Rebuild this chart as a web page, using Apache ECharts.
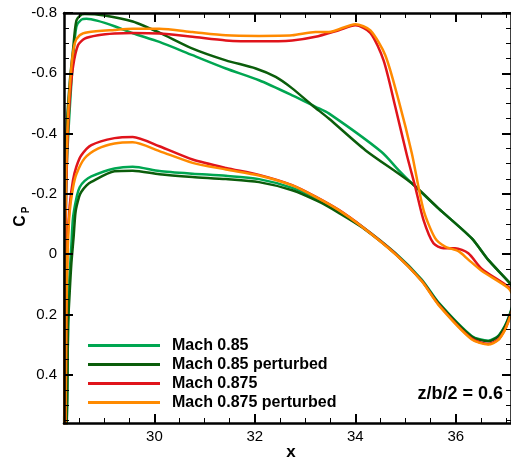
<!DOCTYPE html>
<html>
<head>
<meta charset="utf-8">
<script src="https://cdn.jsdelivr.net/npm/echarts@6/dist/echarts.min.js"></script>
<style>
  html, body { margin: 0; padding: 0; background: #fff; }
  #chart { width: 511px; height: 461px; }
</style>
</head>
<body>
<div id="chart"></div>
<script>
// Pressure coefficient along the section z/b/2 = 0.6.
// Each curve runs from the trailing edge along the upper surface to the
// leading edge, then back along the lower surface to the trailing edge.

const seriesNames = ['Mach 0.85', 'Mach 0.85 perturbed', 'Mach 0.875', 'Mach 0.875 perturbed'];
const seriesColors = ['#00a651', '#0b5d0b', '#e0141b', '#ff8a00'];

const mach085X = [
  37.15, 37.05, 36.647, 36.315, 35.655, 35.125, 34.861, 34.524, 33.472, 33.208, 32.744, 32.083,
  31.423, 30.760, 30.099, 29.569, 29.206, 28.875, 28.645, 28.546, 28.446, 28.379, 28.313, 28.26,
  28.234, 28.22, 28.212, 28.204, 28.195,
  28.262, 28.294, 28.347, 28.379, 28.446, 28.512, 28.611, 28.744, 29.206, 29.569, 30.099, 30.760,
  31.423, 32.083, 32.744, 33.274, 33.671, 34.133, 34.796, 35.323, 35.655, 36.315, 36.647, 36.845,
  36.978, 37.063, 37.15
];
const mach085Cp = [
  0.115, 0.091, 0.019, -0.053, -0.152, -0.235, -0.279, -0.339, -0.467, -0.489, -0.527, -0.577,
  -0.616, -0.660, -0.704, -0.733, -0.756, -0.774, -0.781, -0.778, -0.754, -0.643, -0.478, -0.31,
  -0.11, 0.15, 0.48, 0.81, 1.05,
  0.48, 0.128, -0.03, -0.12, -0.185, -0.222, -0.243, -0.258, -0.284, -0.290, -0.276, -0.267,
  -0.260, -0.249, -0.220, -0.181, -0.142, -0.092, -0.004, 0.084, 0.160, 0.271, 0.287, 0.271,
  0.238, 0.205, 0.16
];

const mach085pX = [
  37.15, 37.05, 36.647, 36.315, 35.655, 35.125, 34.200, 33.472, 33.141, 32.744, 32.415, 32.018,
  31.423, 30.760, 30.099, 29.569, 29.008, 28.611, 28.546, 28.446, 28.379, 28.313, 28.248, 28.22,
  28.214, 28.204, 28.195,
  28.265, 28.280, 28.313, 28.347, 28.393, 28.43, 28.50, 28.546, 28.65, 28.744, 29.206, 29.569,
  30.099, 30.760, 31.423, 32.083, 32.744, 33.274, 33.671, 34.133, 34.796, 35.323, 35.655, 36.315,
  36.647, 36.845, 36.978, 37.063, 37.15
];
const mach085pCp = [
  0.115, 0.091, 0.019, -0.053, -0.152, -0.235, -0.345, -0.450, -0.494, -0.550, -0.588, -0.616,
  -0.643, -0.682, -0.735, -0.772, -0.792, -0.797, -0.795, -0.774, -0.676, -0.567, -0.402, -0.18,
  0.15, 0.55, 1.05,
  0.48, 0.240, 0.128, 0.030, -0.06, -0.14, -0.19, -0.207, -0.228, -0.240, -0.275, -0.277,
  -0.265, -0.256, -0.249, -0.239, -0.212, -0.174, -0.137, -0.089, -0.001, 0.088, 0.162, 0.273,
  0.289, 0.273, 0.240, 0.207, 0.165
];

const mach0875X = [
  37.15, 37.044, 36.514, 36.25, 35.986, 35.754, 35.556, 35.357, 35.192, 35.026, 34.796, 34.563,
  34.3, 34.002, 33.671, 33.208, 32.744, 32.083, 31.423, 30.760, 30.099, 29.569, 29.206, 28.875,
  28.611, 28.478, 28.379, 28.313, 28.263, 28.234, 28.22, 28.208, 28.195,
  28.236, 28.250, 28.268, 28.313, 28.379, 28.446, 28.545, 28.744, 29.206, 29.569, 30.099, 30.760,
  31.423, 32.083, 32.744, 33.208, 33.671, 34.133, 34.796, 35.323, 35.655, 36.315, 36.647, 36.845,
  36.978, 37.063, 37.15
];
const mach0875Cp = [
  0.13, 0.108, 0.048, -0.003, -0.020, -0.020, -0.036, -0.114, -0.224, -0.329, -0.489, -0.643,
  -0.734, -0.759, -0.743, -0.721, -0.709, -0.706, -0.709, -0.721, -0.732, -0.734, -0.732, -0.726,
  -0.715, -0.693, -0.621, -0.511, -0.345, -0.114, 0.217, 0.55, 1.05,
  0.50, 0.15, -0.037, -0.16, -0.245, -0.29, -0.328, -0.362, -0.385, -0.389, -0.358, -0.314,
  -0.286, -0.263, -0.229, -0.191, -0.147, -0.092, -0.002, 0.088, 0.166, 0.280, 0.298, 0.283,
  0.250, 0.215, 0.17
];

const mach0875pX = [
  37.15, 37.044, 36.514, 36.25, 36.052, 35.788, 35.589, 35.357, 35.125, 34.861, 34.597, 34.3,
  34.002, 33.472, 33.208, 32.744, 32.083, 31.423, 30.760, 30.099, 29.569, 29.206, 28.677, 28.512,
  28.413, 28.347, 28.280, 28.24, 28.222, 28.212, 28.204, 28.195,
  28.232, 28.248, 28.280, 28.313, 28.379, 28.446, 28.611, 28.875, 29.206, 29.569, 30.099, 30.760,
  31.423, 32.083, 32.744, 33.208, 33.671, 34.133, 34.796, 35.323, 35.655, 36.315, 36.647, 36.845,
  36.978, 37.063, 37.15
];
const mach0875pCp = [
  0.14, 0.112, 0.055, 0.018, -0.010, -0.025, -0.053, -0.147, -0.335, -0.511, -0.660, -0.742,
  -0.763, -0.737, -0.737, -0.726, -0.724, -0.726, -0.737, -0.748, -0.748, -0.744, -0.736, -0.726,
  -0.699, -0.621, -0.456, -0.25, 0.0, 0.3, 0.6, 1.05,
  0.52, 0.184, -0.037, -0.14, -0.22, -0.265, -0.318, -0.350, -0.367, -0.371, -0.342, -0.303,
  -0.281, -0.261, -0.228, -0.190, -0.146, -0.091, 0.000, 0.090, 0.168, 0.282, 0.300, 0.285,
  0.252, 0.217, 0.175
];

const curveX = [mach085X, mach085pX, mach0875X, mach0875pX];
const curveCp = [mach085Cp, mach085pCp, mach0875Cp, mach0875pCp];

// Axis ticks and labels
const xMajorTicks = [30, 32, 34, 36];
const xMinorTicks = [28.5, 29, 29.5, 30.5, 31, 31.5, 32.5, 33, 33.5, 34.5, 35, 35.5, 36.5, 37];
const yMajorTicks = [-0.8, -0.6, -0.4, -0.2, 0, 0.2, 0.4];
const yMinorTicks = [-0.75, -0.7, -0.65, -0.55, -0.5, -0.45, -0.35, -0.3, -0.25, -0.15, -0.1, -0.05,
                     0.05, 0.1, 0.15, 0.25, 0.3, 0.35, 0.45, 0.5, 0.55];

const FONT = '"Liberation Sans", Arial, Helvetica, sans-serif';

function makeAxis(kind, position, ticks, tickLen, tickWidth, withLabels, withLine) {
  const ax = {
    type: 'value',
    position: position,
    splitLine: { show: false },
    axisLine: { show: withLine, onZero: false, lineStyle: { color: '#000', width: 2.5 } },
    axisTick: { show: true, inside: true, length: tickLen, customValues: ticks,
                lineStyle: { color: '#000', width: tickWidth } },
    axisLabel: withLabels
      ? { show: true, customValues: ticks, color: '#000', fontFamily: FONT, fontSize: 15,
          margin: kind === 'x' ? 6 : 7 }
      : { show: false },
    z: 5
  };
  if (kind === 'x') {
    ax.min = 28.2; ax.max = 37.1;
  } else {
    ax.min = -0.8; ax.max = 0.56; ax.inverse = true;
  }
  return ax;
}

const chart = echarts.init(document.getElementById('chart'), null, { renderer: 'canvas' });

const series = seriesNames.map((name, i) => ({
  name: name,
  type: 'line',
  xAxisIndex: 0,
  yAxisIndex: 0,
  data: curveX[i].map((x, k) => [x, curveCp[i][k]]),
  showSymbol: false,
  symbol: 'none',
  smooth: 0.25,
  clip: true,
  color: seriesColors[i],
  lineStyle: { color: seriesColors[i], width: 2.5 },
  animation: false,
  z: 2
}));

chart.setOption({
  animation: false,
  backgroundColor: '#fff',
  grid: { left: 64, top: 13, width: 449, height: 410, containLabel: false },
  xAxis: [
    makeAxis('x', 'bottom', xMajorTicks, 9, 2, true, true),
    makeAxis('x', 'bottom', xMinorTicks, 5, 1, false, false),
    makeAxis('x', 'top', xMajorTicks, 9, 2, false, true),
    makeAxis('x', 'top', xMinorTicks, 5, 1, false, false)
  ],
  yAxis: [
    makeAxis('y', 'left', yMajorTicks, 9, 2, true, true),
    makeAxis('y', 'left', yMinorTicks, 5, 1, false, false),
    makeAxis('y', 'right', yMajorTicks, 9, 2, false, true),
    makeAxis('y', 'right', yMinorTicks, 5, 1, false, false)
  ],
  legend: {
    orient: 'vertical',
    left: 83,
    top: 331,
    itemWidth: 72,
    itemHeight: 3,
    itemGap: 0,
    icon: 'rect',
    data: seriesNames,
    textStyle: { fontFamily: FONT, fontSize: 16, fontWeight: 'bold', color: '#000',
                 lineHeight: 19, padding: [0, 0, 0, 7] }
  },
  graphic: [
    {
      type: 'text', x: 503, y: 394,
      style: { text: 'z/b/2 = 0.6', fontFamily: FONT, fontSize: 18, fontWeight: 'bold',
               fill: '#000', align: 'right', verticalAlign: 'middle' }
    },
    {
      type: 'text', x: 291, y: 452,
      style: { text: 'x', fontFamily: FONT, fontSize: 17, fontWeight: 'bold',
               fill: '#000', align: 'center', verticalAlign: 'middle' }
    },
    {
      type: 'group', x: 21, y: 221, rotation: Math.PI / 2,
      children: [
        { type: 'text', x: 0, y: 0,
          style: { text: 'C', fontFamily: FONT, fontSize: 16, fontWeight: 'bold', fill: '#000',
                   align: 'center', verticalAlign: 'middle' } },
        { type: 'text', x: 11, y: 5,
          style: { text: 'P', fontFamily: FONT, fontSize: 10, fontWeight: 'bold', fill: '#000',
                   align: 'center', verticalAlign: 'middle' } }
      ]
    }
  ],
  series: series
});
</script>
</body>
</html>
